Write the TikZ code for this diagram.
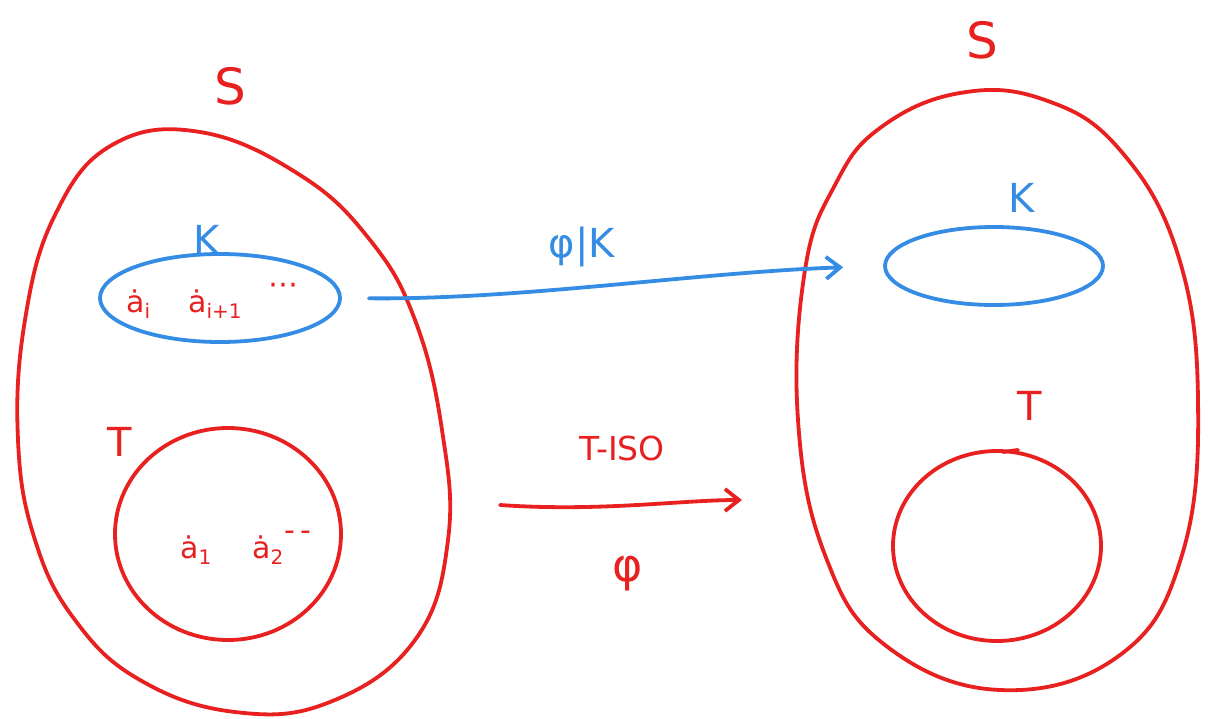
\documentclass[tikz,border=0pt]{standalone}
\usepackage{fontspec}
\newfontfamily\penfont{DejaVu Sans}
\usetikzlibrary{shapes.geometric,arrows.meta}
\definecolor{pen red}{RGB}{232,32,32}
\definecolor{pen blue}{RGB}{52,140,228}
\newcommand{\elem}[1]{\.a\raisebox{-0.4ex}{\fontsize{20}{20}\selectfont #1}}
\tikzset{
  redline/.style={draw=pen red,line width=3.8pt,line cap=round,line join=round},
  blueline/.style={draw=pen blue,line width=3.8pt,line cap=round,line join=round},
  oval/.style={ellipse,inner sep=0pt,minimum width=#1},
  lbl/.style={font=\penfont\fontsize{40}{40}\selectfont,inner sep=0pt},
  big/.style={font=\penfont\fontsize{50}{50}\selectfont},
  small/.style={font=\penfont\fontsize{33}{33}\selectfont},
  elt/.style={text=pen red,font=\penfont\fontsize{30}{30}\selectfont,inner sep=0pt,anchor=base west},
  tip/.style={-{Straight Barb[length=14pt,width=22pt,line width=3.8pt]}}
}
\begin{document}
\begin{tikzpicture}[x=1pt,y=-1pt]
\useasboundingbox[fill=white] (0,0) rectangle (1209,719);

% left set S
\draw[redline] plot[smooth cycle,tension=0.7] coordinates {
  (112,145) (200,132) (300,175) (370,240) (415,320) (442,430) (448,540)
  (415,640) (330,702) (235,712) (140,680) (75,620) (35,540) (18,440)
  (25,320) (55,215)};
\node[lbl,big,text=pen red] (Sl) at (230,86) {S};

% left K with its elements
\node[oval=240pt,minimum height=88pt,blueline] (Kl) at (220,298) {};
\node[lbl,text=pen blue] (Kllab) at (207,240) {K};
\node[elt] (ai) at (126,312) {\elem{i}};
\node[elt] (ai1) at (188,312) {\elem{i+1}};
\node[elt] (dotsK) at (268,294) {⋯};

% left T with its elements
\node[oval=226pt,minimum height=212pt,redline] (Tl) at (228,534) {};
\node[lbl,text=pen red] (Tllab) at (120,442) {T};
\node[elt] (a1) at (180,558) {\elem{1}};
\node[elt] (a2) at (252,558) {\elem{2}};
\node[elt] (dotsT) at (284,540) {-\,-};

% right set S
\draw[redline] plot[smooth cycle,tension=0.7] coordinates {
  (880,128) (960,93) (1045,100) (1120,150) (1178,255) (1198,400)
  (1182,555) (1120,655) (1000,690) (885,645) (825,555) (798,420)
  (805,270) (835,185)};
\node[lbl,big,text=pen red] (Sr) at (982,40) {S};

% right K
\node[oval=218pt,minimum height=78pt,blueline] (Kr) at (994,266) {};
\node[lbl,text=pen blue] (Krlab) at (1022,198) {K};

% right T
\node[oval=208pt,minimum height=190pt,redline] (Tr) at (997,546) {};
\node[lbl,text=pen red] (Trlab) at (1030,406) {T};
\draw[redline] (1003,452) -- (1018,450);

% restriction map on K
\draw[blueline,tip,shorten <=27pt,shorten >=40pt]
  (Kl.east) .. controls (520,300) and (700,272) .. (Kr.west);
\node[lbl,text=pen blue] (phiK) at (582,247) {φ|K};

% isomorphism on T
\coordinate (isoA) at (500,505);
\coordinate (isoB) at (742,500);
\draw[redline,tip] (isoA) .. controls (600,512) and (680,500) .. (isoB);
\node[lbl,small,text=pen red] (iso) at (622,448) {T-ISO};
\node[lbl,text=pen red,font=\penfont\fontsize{46}{46}\selectfont] (phi) at (628,574) {φ};
\end{tikzpicture}
\end{document}
